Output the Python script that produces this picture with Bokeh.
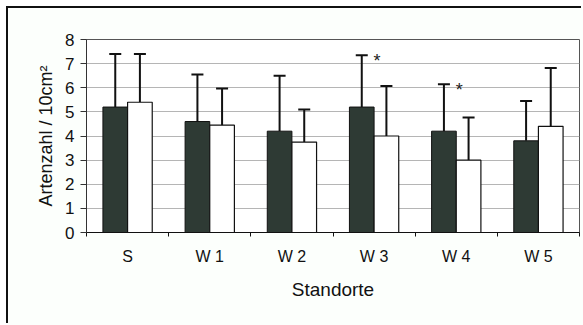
from bokeh.plotting import figure
from bokeh.models import ColumnDataSource, FixedTicker, Whisker, TeeHead
from bokeh.core.properties import value
from bokeh.embed import file_html
from bokeh.resources import INLINE

categories = ["S", "W 1", "W 2", "W 3", "W 4", "W 5"]
dark_vals = [5.2, 4.6, 4.2, 5.2, 4.2, 3.8]
dark_err = [7.4, 6.55, 6.5, 7.35, 6.15, 5.45]
white_vals = [5.4, 4.45, 3.75, 4.0, 3.0, 4.4]
white_err = [7.4, 5.97, 5.1, 6.07, 4.77, 6.82]
significant = [False, False, False, True, True, False]
y_ticks = [0, 1, 2, 3, 4, 5, 6, 7, 8]

bar_w = 0.3
centers = [i + 0.5 for i in range(len(categories))]
dark_x = [c - bar_w / 2 for c in centers]
white_x = [c + bar_w / 2 for c in centers]

font = "Liberation Sans"

p = figure(width=575, height=317, x_range=(0, len(categories)), y_range=(0, 8),
           output_backend="svg", toolbar_location=None,
           min_border_left=78, min_border_right=4, min_border_top=31, min_border_bottom=93)
p.styles = {"margin-left": "8px", "margin-top": "8px", "box-shadow": "-2px -2px 0 0 #111"}
p.border_fill_color = "#fcfffc"

p.outline_line_color = "#555555"
p.outline_line_width = 1

src_d = ColumnDataSource(dict(x=dark_x, top=dark_vals, err=dark_err))
src_w = ColumnDataSource(dict(x=white_x, top=white_vals, err=white_err))

p.vbar(x="x", top="top", bottom=0, width=bar_w, source=src_d,
       fill_color="#2e3a34", line_color="#111111", line_width=1)
p.vbar(x="x", top="top", bottom=0, width=bar_w, source=src_w,
       fill_color="white", line_color="#111111", line_width=1.2)

for src in (src_d, src_w):
    w = Whisker(base="x", lower="top", upper="err", source=src,
                line_color="#111111", line_width=2,
                upper_head=TeeHead(size=12, line_color="#111111", line_width=2),
                lower_head=None)
    p.add_layout(w)

star_x = [c for c, s in zip(centers, significant) if s]
star_y = [e for e, s in zip(dark_err, significant) if s]
p.text(x=star_x, y=star_y, text=["*"] * len(star_x), text_font=value(font),
       text_font_size="18px", text_align="center", text_baseline="top",
       x_offset=3, y_offset=-4, text_color="#222222")

# axes
p.xaxis.ticker = FixedTicker(ticks=centers, minor_ticks=list(range(len(categories) + 1)))
p.xaxis.major_label_overrides = {c: lab for c, lab in zip(centers, categories)}
p.xaxis.major_tick_out = 0
p.xaxis.major_tick_in = 0
p.xaxis.minor_tick_out = 4
p.xaxis.minor_tick_in = 0
p.xaxis.minor_tick_line_color = "#111111"
p.xaxis.axis_line_color = "#111111"
p.xaxis.major_label_text_font = font
p.xaxis.major_label_text_font_size = "16px"
p.xaxis.major_label_text_color = "#111111"
p.xaxis.major_label_standoff = 11
p.xaxis.axis_label = "Standorte"
p.xaxis.axis_label_text_font = font
p.xaxis.axis_label_text_font_size = "19px"
p.xaxis.axis_label_text_font_style = "normal"
p.xaxis.axis_label_text_color = "#111111"
p.xaxis.axis_label_standoff = 11

p.yaxis.ticker = FixedTicker(ticks=y_ticks, minor_ticks=[])
p.yaxis.major_tick_out = 6
p.yaxis.major_tick_in = 0
p.yaxis.major_tick_line_color = "#333333"
p.yaxis.axis_line_color = "#333333"
p.yaxis.major_label_text_font = font
p.yaxis.major_label_text_font_size = "17px"
p.yaxis.major_label_text_color = "#111111"
p.yaxis.major_label_standoff = 6
p.yaxis.axis_label = "Artenzahl / 10cm²"
p.yaxis.axis_label_text_font = font
p.yaxis.axis_label_text_font_size = "18px"
p.yaxis.axis_label_text_font_style = "normal"
p.yaxis.axis_label_text_color = "#111111"
p.yaxis.axis_label_standoff = 6

p.xgrid.grid_line_color = None
p.ygrid.ticker = FixedTicker(ticks=y_ticks)
p.ygrid.grid_line_color = "#b5b5b5"
p.ygrid.grid_line_width = 1

open("out.html", "w").write(file_html(p, INLINE))
